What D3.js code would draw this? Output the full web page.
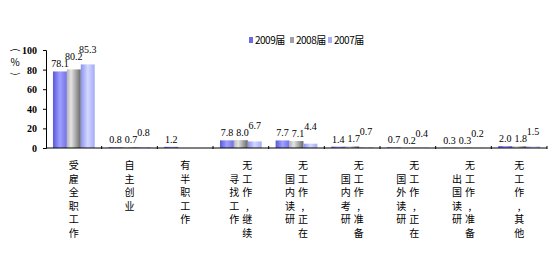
<!DOCTYPE html>
<html lang="zh">
<head>
<meta charset="UTF-8">
<title>毕业去向</title>
<script src="https://d3js.org/d3.v7.min.js"></script>
<style>
  body { margin: 0; background: #fff; overflow: hidden; }
  text { fill: #000; }
  .num { font-family: "Liberation Serif", "Times New Roman", serif; font-size: 10px; }
  .cjk { font-family: "Noto Sans CJK SC", sans-serif; font-size: 10px; }
</style>
</head>
<body>
<div id="chart"></div>
<script>
// categories: [right column, left column] for vertical labels
var categories = ["受雇全职工作", "自主创业", "有半职工作", "无工作，继续寻找工作",
  "无工作，正在国内读研", "无工作，准备国内考研", "无工作，正在国外读研",
  "无工作，准备出国读研", "无工作，其他"];
var labelCols = [["受雇全职工作"], ["自主创业"], ["有半职工作"], ["无工作，继续", "寻找工作"],
  ["无工作，正在", "国内读研"], ["无工作，准备", "国内考研"], ["无工作，正在", "国外读研"],
  ["无工作，准备", "出国读研"], ["无工作，其他"]];
var series = ["2009届", "2008届", "2007届"];
var v2009 = [78.1, 0.8, 1.2, 7.8, 7.7, 1.4, 0.7, 0.3, 2.0];
var v2008 = [80.2, 0.7, null, 8.0, 7.1, 1.7, 0.2, 0.3, 1.8];
var v2007 = [85.3, 0.8, null, 6.7, 4.4, 0.7, 0.4, 0.2, 1.5];
var yTicks = [0, 20, 40, 60, 80, 100];

var values = [v2009, v2008, v2007];
var W = 550, H = 272;

var svg = d3.select("#chart").append("svg")
    .attr("width", W).attr("height", H);

var defs = svg.append("defs");
var grads = [
  [["0", "#5858dc"], ["0.5", "#a0a0ff"], ["1", "#7070e6"]],
  [["0", "#b4b4b4"], ["0.3", "#e4e4e4"], ["1", "#686868"]],
  [["0", "#8a92ee"], ["0.5", "#d4d8ff"], ["1", "#a2aaf8"]]
];
var legendColors = ["#6a6ae6", "#a0a0a0", "#a8aef6"];
grads.forEach(function(stops, i) {
  var g = defs.append("linearGradient").attr("id", "g" + i)
      .attr("x1", 0).attr("x2", 1).attr("y1", 0).attr("y2", 0);
  stops.forEach(function(s) {
    g.append("stop").attr("offset", s[0]).attr("stop-color", s[1]);
  });
});

var x = d3.scaleBand().domain(categories).range([46, 547])
    .paddingInner(0.25).paddingOuter(0.125);
var xs = d3.scaleBand().domain(series).range([0, x.bandwidth()]);
var y = d3.scaleLinear().domain([0, 100]).range([148, 50]);

// bars
series.forEach(function(s, si) {
  svg.append("g").selectAll("rect")
    .data(categories.map(function(c, ci) { return {c: c, v: values[si][ci]}; })
      .filter(function(d) { return d.v != null; }))
    .join("rect")
      .attr("x", function(d) { return x(d.c) + xs(s); })
      .attr("width", xs.bandwidth())
      .attr("y", function(d) { return y(d.v); })
      .attr("height", function(d) { return y(0) - y(d.v); })
      .attr("fill", "url(#g" + si + ")");
});

// y axis
var yAxis = d3.axisLeft(y).tickValues(yTicks).tickSize(3).tickPadding(6);
var ya = svg.append("g").attr("transform", "translate(46,0)").call(yAxis);
ya.select(".domain").attr("stroke", "#000");
ya.selectAll("text").attr("class", "num").attr("font-weight", "bold").attr("dy", "0.35em");

// x axis with ticks between categories
var xa = svg.append("g");
xa.append("line").attr("x1", 46).attr("x2", 547).attr("y1", y(0)).attr("y2", y(0))
    .attr("stroke", "#000");
var bounds = categories.map(function(c) { return x(c) - x.step() * x.paddingInner() / 2; });
bounds.push(547);
xa.selectAll(".tk").data(bounds.slice(1)).join("line")
    .attr("x1", function(d) { return d; }).attr("x2", function(d) { return d; })
    .attr("y1", y(0) - 2).attr("y2", y(0) + 1).attr("stroke", "#000");

// value labels, nudged aside / up when they run into the neighbour
var lab = svg.append("g");
categories.forEach(function(c, ci) {
  var prev = null;
  series.forEach(function(s, si) {
    var v = values[si][ci];
    if (v == null) return;
    var cx = x(c) + xs(s) + xs.bandwidth() / 2;
    var ty = y(v) - 4;
    var t = lab.append("text").attr("class", "num").attr("x", cx).attr("y", ty)
        .attr("text-anchor", "middle").text(v.toFixed(1));
    var bb = t.node().getBBox();
    if (prev && bb.x < prev.x + prev.width + 3 && Math.abs(ty - prev.ty) < 7) {
      var shift = prev.x + prev.width + 3 - bb.x;
      if (shift <= 3) {
        cx += shift; bb.x += shift;
        t.attr("x", cx);
      } else {
        ty = prev.ty - 7;
        t.attr("y", ty);
      }
    }
    prev = {x: bb.x, width: bb.width, ty: ty};
  });
});

// category labels, vertical
var rowH = 13.6;
labelCols.forEach(function(cols, ci) {
  var cx = x(categories[ci]) + x.bandwidth() / 2;
  cols.forEach(function(col, k) {
    var colX = cols.length === 1 ? cx : (k === 0 ? cx + 6.5 : cx - 6.5);
    Array.from(col).forEach(function(ch, r) {
      svg.append("text").attr("class", "cjk")
        .attr("x", colX).attr("y", 169 + (r + k) * rowH)
        .attr("text-anchor", "middle")
        .text(ch === "，" ? "," : ch);
    });
  });
});

// y unit label
var unit = svg.append("g").attr("class", "cjk");
unit.append("text").attr("transform", "translate(15,50) rotate(90)")
    .attr("text-anchor", "middle").attr("dy", "0.35em").text("(");
unit.append("text").attr("x", 15).attr("y", 66).attr("text-anchor", "middle").text("%");
unit.append("text").attr("transform", "translate(15,74) rotate(90)")
    .attr("text-anchor", "middle").attr("dy", "0.35em").text(")");

// legend
var leg = svg.append("g");
var legX = [249, 290, 328];
series.forEach(function(s, i) {
  leg.append("rect").attr("x", legX[i]).attr("y", 37).attr("width", 4).attr("height", 6)
      .attr("fill", legendColors[i]);
  leg.append("text").attr("class", "cjk").attr("x", legX[i] + 6).attr("y", 44)
      .attr("letter-spacing", "-0.5").text(s);
});
</script>
</body>
</html>
